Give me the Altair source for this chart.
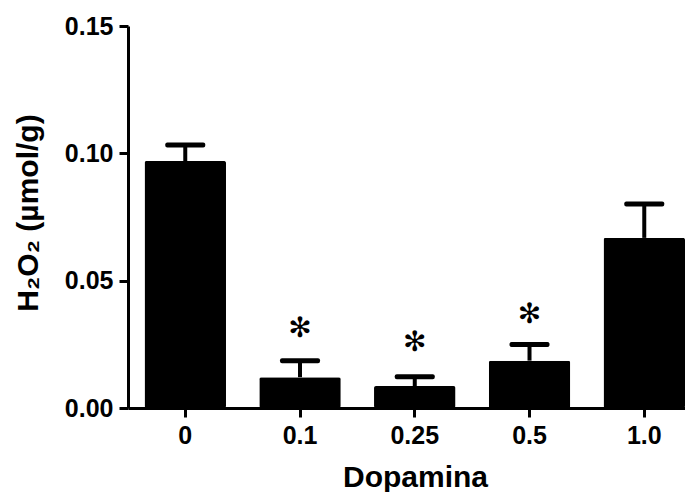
import altair as alt
import pandas as pd

doses = ["0", "0.1", "0.25", "0.5", "1.0"]
means = [0.097, 0.0121, 0.0086, 0.0186, 0.0668]
sems = [0.0063, 0.0065, 0.0037, 0.0063, 0.0133]
stars = ["", "\u273b", "\u273b", "\u273b", ""]
star_y = [None, 0.031, 0.0256, 0.0365, None]

df = pd.DataFrame({
    "dose": doses,
    "mean": means,
    "upper": [m + s for m, s in zip(means, sems)],
    "star": stars,
    "star_y": star_y,
})

FONT = "Liberation Sans"

x = alt.X("dose:N", sort=doses,
          scale=alt.Scale(paddingInner=0.29, paddingOuter=0.072, align=1.0),
          axis=alt.Axis(title="Dopamina", labelAngle=0, labelPadding=6,
                        titleX=287, titleY=78, titleBaseline="alphabetic",
                        titleAlign="center", titleAnchor="start"))
y_scale = alt.Scale(domain=[0, 0.15], nice=False, zero=True)

base = alt.Chart(df)

bars = base.mark_bar(color="black", cornerRadius=2, opacity=1).encode(
    x=x,
    y=alt.Y("mean:Q", scale=y_scale,
            axis=alt.Axis(title="H\u2082O\u2082 (\u00b5mol/g)", values=[0, 0.05, 0.10, 0.15],
                          format=".2f", labelPadding=6,
                          titleAngle=270, titleX=-91, titleY=186.5,
                          titleBaseline="alphabetic", titleAlign="center",
                          titleAnchor="start")),
)

err = base.mark_rule(color="black", strokeWidth=4, opacity=1).encode(
    x=alt.X("dose:N", sort=doses),
    y="mean:Q",
    y2="upper:Q",
)

caps = base.mark_tick(color="black", size=40, thickness=5, orient="horizontal",
                      cornerRadius=2, opacity=1).encode(
    x=alt.X("dose:N", sort=doses),
    y="upper:Q",
)

star_text = base.transform_filter("datum.star != ''").mark_text(
    font="DejaVu Sans", fontSize=28, color="black", baseline="middle", align="center"
).encode(
    x=alt.X("dose:N", sort=doses),
    y="star_y:Q",
    text="star:N",
)

chart = alt.layer(bars, err, caps, star_text).properties(
    width=557, height=382,
    autosize=alt.AutoSizeParams(type="none"),
    padding={"left": 120, "top": 18, "right": 0, "bottom": 84},
).configure_view(stroke=None).configure_axis(
    grid=False,
    domainColor="black", domainWidth=3,
    tickColor="black", tickWidth=3, tickSize=9,
    labelFont=FONT, labelFontWeight="bold", labelFontSize=25, labelColor="black",
    titleFont=FONT, titleFontWeight="bold", titleFontSize=30, titleColor="black",
)

chart.save("out.html", embed_options={"renderer": "svg", "actions": False})
